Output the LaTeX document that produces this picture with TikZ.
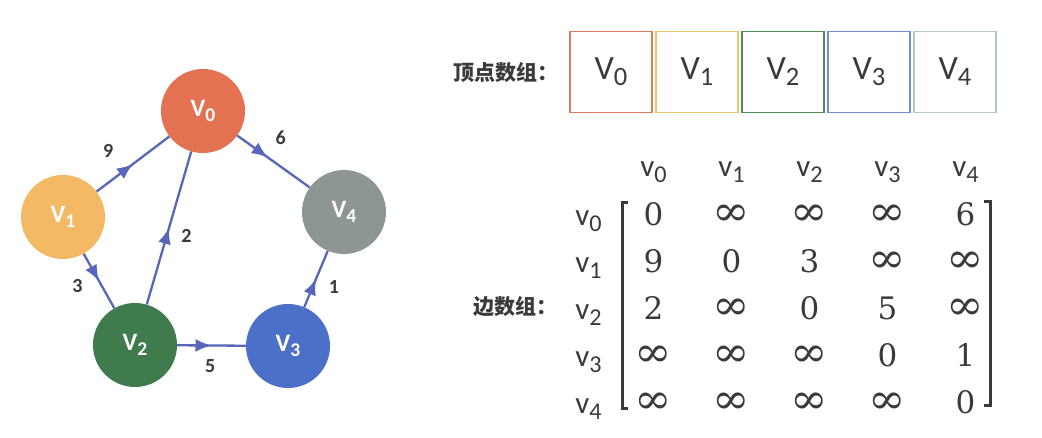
\documentclass[tikz,border=0pt]{standalone}
\usepackage{fontspec}
\usepackage{graphicx}
\setsansfont{Carlito}
\newfontfamily\cjk{Noto Sans CJK SC}
\newfontfamily\numfont{DejaVu Serif}
\usetikzlibrary{matrix,decorations.markings,arrows.meta}
\definecolor{vzero}{HTML}{E27252}
\definecolor{vone}{HTML}{F3B964}
\definecolor{vtwo}{HTML}{3F7B4C}
\definecolor{vthree}{HTML}{4C6FC7}
\definecolor{vfour}{HTML}{8D9692}
\definecolor{bzero}{HTML}{DA7B5F}
\definecolor{bone}{HTML}{F0C86A}
\definecolor{btwo}{HTML}{4F8A5B}
\definecolor{bthree}{HTML}{6F8FD6}
\definecolor{bfour}{HTML}{B8C4CC}
\definecolor{edgeblue}{HTML}{5766B8}
\definecolor{textgray}{HTML}{3A3A3A}
\newcommand{\vlab}[2]{#1\raisebox{-0.18em}{\scalebox{0.78}{#2}}}
\newcommand{\infy}{\scalebox{1.45}[1.35]{∞}}
\begin{document}
\begin{tikzpicture}[x=1pt,y=-1pt,
	vertex/.style={circle,minimum size=84pt,inner sep=0,text=white,
		font=\sffamily\bfseries\fontsize{25}{28}\selectfont},
	link/.style={draw=edgeblue,line width=2.3pt,postaction={decorate},
		decoration={markings,mark=at position #1 with {\arrow{Latex[length=16pt,width=13pt]}}}},
	link/.default=0.5,
	wlabel/.style={font=\sffamily\bfseries\fontsize{20}{22}\selectfont,text=textgray},
	vbox/.style={draw,line width=1.5pt,minimum width=82pt,minimum height=81pt,inner sep=0,
		font=\sffamily\fontsize{34}{40}\selectfont,text=textgray},
	hdr/.style={font=\sffamily\fontsize{31}{36}\selectfont,text=textgray},
	cell/.style={minimum width=78pt,minimum height=47pt,inner sep=0,text height=24pt,text depth=0pt,
		font=\numfont\fontsize{31}{36}\selectfont,text=textgray},
	arrlabel/.style={anchor=west,font=\cjk\bfseries\fontsize{21}{24}\selectfont,text=textgray}]
\useasboundingbox (0,0) rectangle (1042,438);
% graph
\node[vertex,fill=vzero] (v0) at (203,111) {\vlab{V}{0}};
\node[vertex,fill=vone] (v1) at (63,217) {\vlab{V}{1}};
\node[vertex,fill=vtwo] (v2) at (135,345) {\vlab{V}{2}};
\node[vertex,fill=vthree] (v3) at (288,346) {\vlab{V}{3}};
\node[vertex,fill=vfour] (v4) at (344,212) {\vlab{V}{4}};
\draw[link] (v1) -- node[wlabel,pos=0.4,above left=8pt] (w10) {9} (v0);
\draw[link=0.42] (v0) -- node[wlabel,pos=0.6,above=18pt] (w04) {6} (v4);
\draw[link] (v2) -- node[wlabel,pos=0.45,right=10pt] (w20) {2} (v0);
\draw[link] (v1) -- node[wlabel,pos=0.6,left=15pt] (w12) {3} (v2);
\draw[link] (v2) -- node[wlabel,pos=0.48,below=10pt] (w23) {5} (v3);
\draw[link] (v3) -- node[wlabel,pos=0.35,right=12pt] (w34) {1} (v4);
% vertex array
\node[arrlabel] (vlabel) at (450,73) {顶点数组：};
\node[vbox,draw=bzero] (b0) at (611,72) {\vlab{V}{0}};
\node[vbox,draw=bone] (b1) at (697,72) {\vlab{V}{1}};
\node[vbox,draw=btwo] (b2) at (783,72) {\vlab{V}{2}};
\node[vbox,draw=bthree] (b3) at (869,72) {\vlab{V}{3}};
\node[vbox,draw=bfour] (b4) at (955,72) {\vlab{V}{4}};
% edge array
\node[arrlabel] (elabel) at (470,307) {边数组：};
\matrix (adj) [matrix of nodes,anchor=north west,nodes={cell},
	row 1/.style={nodes={hdr,minimum height=51pt}},
	column 1/.style={nodes={hdr,minimum width=52pt}}] at (559,135.5) {
	& \vlab{v}{0} & \vlab{v}{1} & \vlab{v}{2} & \vlab{v}{3} & \vlab{v}{4} \\
	\vlab{v}{0} & 0 & \infy & \infy & \infy & 6 \\
	\vlab{v}{1} & 9 & 0 & 3 & \infy & \infy \\
	\vlab{v}{2} & 2 & \infy & 0 & 5 & \infy \\
	\vlab{v}{3} & \infy & \infy & \infy & 0 & 1 \\
	\vlab{v}{4} & \infy & \infy & \infy & \infy & 0 \\
};
\draw[line width=3pt,textgray] (628,203) -| (622,408) -- (628,408);
\draw[line width=3pt,textgray] (984,202) -| (990,405) -- (984,405);
\end{tikzpicture}
\end{document}
